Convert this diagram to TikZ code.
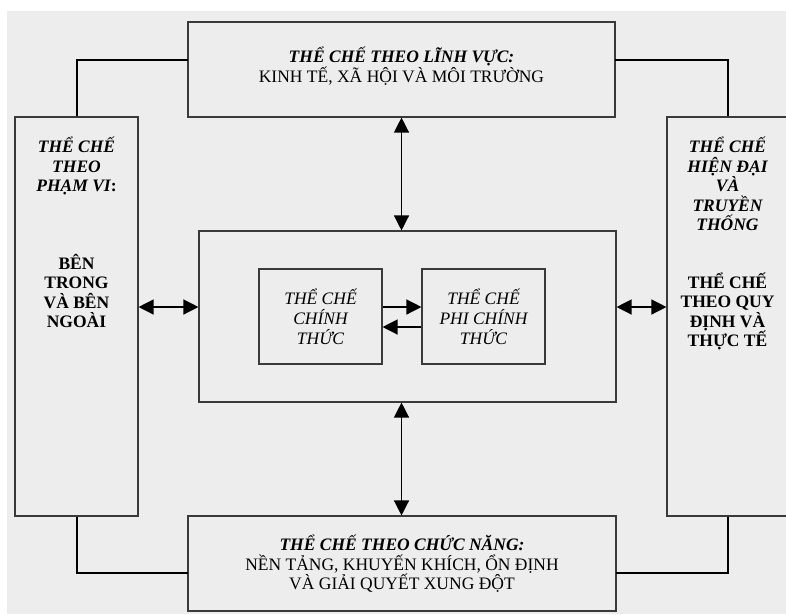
\documentclass[tikz,border=0pt]{standalone}
\usepackage{fontspec}
\setmainfont{Liberation Serif}
\usetikzlibrary{arrows.meta}
\definecolor{bgc}{HTML}{EDEDED}
\definecolor{edge}{HTML}{3A3A3A}
\tikzset{
  boxn/.style={draw=edge, fill=bgc, line width=1.1pt, inner sep=0pt, minimum width=#1},
  conn/.style={draw=black, line width=2pt},
  arr/.style={draw=black, line width=1.3pt, {Triangle[length=15pt,width=15pt]}-{Triangle[length=15pt,width=15pt]}},
  sarr/.style={draw=black, line width=1.3pt, -{Triangle[length=15pt,width=15pt]}},
  txt/.style={align=center, inner sep=0pt, font=\fontsize{17.5}{19.5}\selectfont}
}
\begin{document}
\begin{tikzpicture}[x=1pt,y=-1pt]
\useasboundingbox (0,0) rectangle (786,614);
\fill[white] (0,0) rectangle (786,614);
\fill[bgc] (7,11) rectangle (786,614);
% boxes
\node[boxn=427pt, minimum height=95pt] (top) at (401.5,69.5) {};
\node[boxn=428pt, minimum height=95pt] (bot) at (402,563.5) {};
\node[boxn=123pt, minimum height=399pt] (left) at (76.5,316.5) {};
\node[boxn=121pt, minimum height=399pt] (right) at (727.5,316.5) {};
\node[boxn=417pt, minimum height=171pt] (cen) at (407.5,316.5) {};
\node[boxn=123pt, minimum height=95pt] (in1) at (320.5,316.5) {};
\node[boxn=123pt, minimum height=95pt] (in2) at (483.5,316.5) {};
% helper coordinates
\coordinate (tl) at (188,60);
\coordinate (tr) at (615,60);
\coordinate (bl) at (188,573);
\coordinate (br) at (616,573);
\coordinate (ay) at (0,307);
\coordinate (iy1) at (0,307);
\coordinate (iy2) at (0,327);
% elbow connectors
\draw[conn] (tl) -| (left.north);
\draw[conn] (tr) -| (right.north);
\draw[conn] (left.south) |- (bl);
\draw[conn] (right.south) |- (br);
% arrows
\draw[arr] (top.south) -- (top.south |- cen.north);
\draw[arr] (top.south |- cen.south) -- (top.south |- bot.north);
\draw[arr] (left.east |- ay) -- (cen.west |- ay);
\draw[arr] (cen.east |- ay) -- (right.west |- ay);
\draw[sarr] (in1.east |- iy1) -- (in2.west |- iy1);
\draw[sarr] (in2.west |- iy2) -- (in1.east |- iy2);
% texts
\node[txt] (ttop) at (401.5,66) {{\bfseries\itshape THỂ CHẾ THEO LĨNH VỰC:}\\KINH TẾ, XÃ HỘI VÀ MÔI TRƯỜNG};
\node[txt] (tbot) at (402,564) {{\bfseries\itshape THỂ CHẾ THEO CHỨC NĂNG:}\\NỀN TẢNG, KHUYẾN KHÍCH, ỔN ĐỊNH\\VÀ GIẢI QUYẾT XUNG ĐỘT};
\node[txt, font=\fontsize{17.5}{19.5}\selectfont\bfseries] (tl1) at (76.5,166) {{\itshape THỂ CHẾ}\\{\itshape THEO}\\{\itshape PHẠM VI}:};
\node[txt, font=\fontsize{17.5}{19.5}\selectfont\bfseries] (tl2) at (76.5,291) {BÊN\\TRONG\\VÀ BÊN\\NGOÀI};
\node[txt, font=\fontsize{17.5}{19.5}\selectfont\bfseries\itshape] (tr1) at (727.5,184) {THỂ CHẾ\\HIỆN ĐẠI\\VÀ\\TRUYỀN\\THỐNG};
\node[txt, font=\fontsize{17.5}{19.5}\selectfont\bfseries] (tr2) at (727.5,311.5) {THỂ CHẾ\\THEO QUY\\ĐỊNH VÀ\\THỰC TẾ};
\node[txt, font=\fontsize{17.5}{20}\selectfont\itshape] (ti1) at (320.5,317) {THỂ CHẾ\\CHÍNH\\THỨC};
\node[txt, font=\fontsize{17.5}{20}\selectfont\itshape] (ti2) at (483.5,317) {THỂ CHẾ\\PHI CHÍNH\\THỨC};
\end{tikzpicture}
\end{document}
